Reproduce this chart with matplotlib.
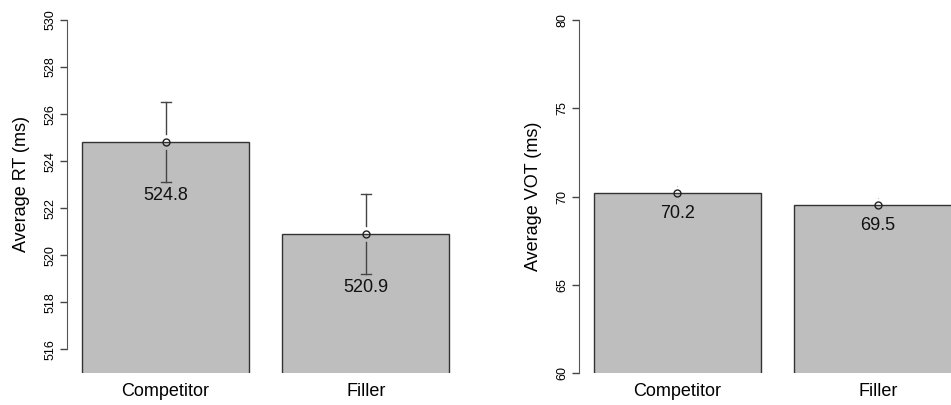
import matplotlib
matplotlib.use("Agg")
import matplotlib.pyplot as plt

plt.rcParams['font.family'] = ['Liberation Sans', 'DejaVu Sans']

conditions = ["Competitor", "Filler"]
rt_means = [524.8, 520.9]
rt_se = [1.7, 1.7]
vot_means = [70.2, 69.5]
vot_se = [0.4, 0.4]

bar_fill = "#bebebe"
bar_edge = "#333333"

fig = plt.figure(figsize=(9.51, 4.05), dpi=100)

# R barplot geometry: width 1, space 0.2, 4% padding on x
xpos = [0.7, 1.9]
xlim = (0.112, 2.488)


def draw_panel(ax, means, se, ylim, yticks, ylabel, label_y):
    ax.set_xlim(*xlim)
    ax.set_ylim(*ylim)
    # bars start at 0 and get clipped by the plot region, as in R
    ax.bar(xpos, means, width=1.0, color=bar_fill, edgecolor=bar_edge,
           linewidth=1.0, zorder=1)

    # gap around the point (like gplots plotCI), in data units
    h_px = ax.get_position().height * fig.get_figheight() * fig.dpi
    gap = 8.0 * (ylim[1] - ylim[0]) / h_px
    for x, m, s in zip(xpos, means, se):
        if s > gap:
            ax.plot([x, x], [m + gap, m + s], color="#444444", lw=1.0, zorder=3)
            ax.plot([x, x], [m - gap, m - s], color="#444444", lw=1.0, zorder=3)
            ax.plot([x - 0.03, x + 0.03], [m + s, m + s], color="#444444", lw=1.0, zorder=3)
            ax.plot([x - 0.03, x + 0.03], [m - s, m - s], color="#444444", lw=1.0, zorder=3)
        else:
            ax.plot([x, x], [m + s, m - s], ls="none", marker="o", ms=1.0,
                    color="#cccccc", mec="none", zorder=3)
        ax.plot([x], [m], marker="o", ms=5, mfc="none", mec="#222222", mew=1.0, zorder=4)
        ax.annotate("%.1f" % m, xy=(x, m - s), xytext=(0, -3.5), textcoords="offset points",
                    ha="center", va="top", fontsize=13, color="#111111", zorder=5)

    for side in ["top", "right", "bottom"]:
        ax.spines[side].set_visible(False)
    ax.spines["left"].set_bounds(yticks[0], yticks[-1])
    ax.spines["left"].set_color("#555555")
    ax.set_yticks(yticks)
    ax.set_yticklabels([str(t) for t in yticks], rotation=90, va="center", fontsize=9)
    ax.tick_params(axis="y", length=5, width=1.0, color="#444444", pad=3)
    ax.set_xticks(xpos)
    ax.set_xticklabels(conditions, fontsize=13)
    ax.tick_params(axis="x", length=0, pad=7)
    ax.set_ylabel(ylabel, fontsize=13)
    ax.yaxis.set_label_coords(-0.093, label_y)


ax1 = fig.add_axes([0.0708, 0.079, 0.4172, 0.8716])
draw_panel(ax1, rt_means, rt_se, (515, 530), list(range(516, 531, 2)),
           "Average RT (ms)", 0.535)

ax2 = fig.add_axes([0.6091, 0.079, 0.4172, 0.8716])
draw_panel(ax2, vot_means, vot_se, (60, 80), [60, 65, 70, 75, 80],
           "Average VOT (ms)", 0.5)

fig.savefig("out.png", dpi=100)
